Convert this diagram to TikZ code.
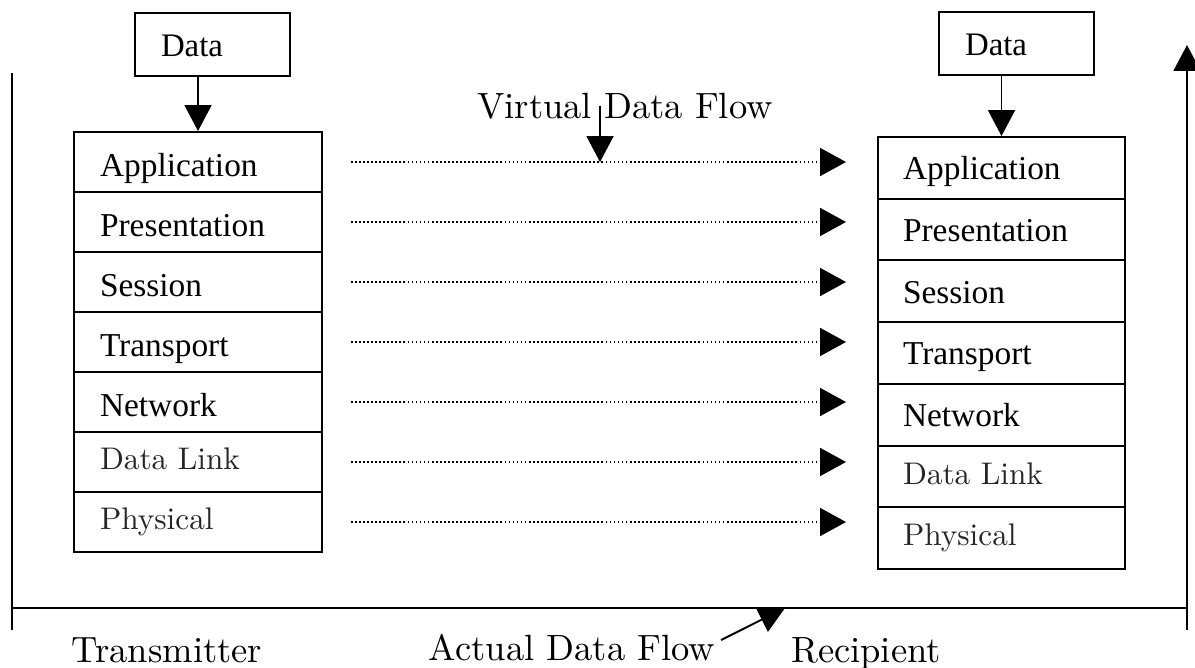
\documentclass[tikz,border=0pt]{standalone}
\usepackage{fontspec}
\newfontfamily\tms{Liberation Serif}
\newfontfamily\pala[Extension=.otf]{lmroman10-regular}
\usetikzlibrary{arrows.meta}

\begin{document}
\begin{tikzpicture}[
    x=0.02cm, y=-0.02cm,
    line width=1.1pt,
    databox/.style={draw, minimum height=1.26cm, inner xsep=0.52cm, text width=2.06cm, align=left, text height=0.5cm, text depth=0pt, font=\tms\fontsize{18.7}{22}\selectfont},
    layer/.style={draw, minimum height=1.2cm, inner xsep=0.52cm, text width=3.92cm, align=left, text height=0.58cm, text depth=0pt, font=\tms\fontsize{19}{22}\selectfont},
    rlayer/.style={layer, minimum height=1.234cm, inner xsep=0.5cm, text width=3.94cm, text height=0.48cm},
    pal/.style={font=\pala\fontsize{17.8}{20}\selectfont, text=black!85, text height=0.3cm},
    caption/.style={font=\pala\fontsize{20.8}{24}\selectfont, inner sep=0pt},
    flow/.style={-{Triangle[length=0.52cm, width=0.54cm]}, line width=1.1pt},
    dotflow/.style={-{Triangle[length=0.52cm, width=0.56cm]}, line width=1pt, dash pattern=on 1pt off 1.3pt}
]
\useasboundingbox (0,0) rectangle (1195,668);

% Sender stack
\node[databox] (dtx) at (212.5,44.5) {Data};
\foreach \lay [count=\i] in {Application,Presentation,Session,Transport,Network}
  \node[layer] (tx\i) at (198,{102+60*\i}) {\lay};
\node[layer, pal] (tx6) at (198,462) {Data Link};
\node[layer, pal] (tx7) at (198,522) {Physical};
\draw[flow] (tx1.north |- dtx.south) -- (tx1.north);

% Receiver stack
\node[databox] (drx) at (1016.5,43.5) {Data};
\foreach \lay [count=\i] in {Application,Presentation,Session,Transport,Network}
  \node[rlayer] (rx\i) at (1001.5,{137+61.7*(\i-0.5)}) {\lay};
\node[rlayer, pal] (rx6) at (1001.5,476.6) {Data Link};
\node[rlayer, pal] (rx7) at (1001.5,538.3) {Physical};
\draw[flow] (rx1.north |- drx.south) -- (rx1.north);

% Virtual data flow between peer layers
\coordinate (tip) at (846,0);
\foreach \i in {1,...,7}
  \draw[dotflow] ([xshift=0.56cm]tx\i.east) -- (tx\i.east -| tip);
\node[caption, anchor=base] (vdf) at (625,119) {Virtual Data Flow};
\coordinate (vtop) at (600,106);
\draw[flow] (vtop) -- (vtop |- tx1.east);

% Actual data flow through the medium
\coordinate (lt) at (12,73);
\coordinate (lb) at (12,630);
\coordinate (rt) at (1187,45);
\coordinate (rb) at (1187,630);
\coordinate (med) at (0,608);
\draw (lt) -- (lb);
\draw (lt |- med) -- (rt |- med);
\draw[flow] (rb) -- (rt);

\node[caption, anchor=base] (tx) at (167,662) {Transmitter};
\node[caption, anchor=base] (adf) at (572,660) {Actual Data Flow};
\node[caption, anchor=base] (rx) at (866,662) {Recipient};
\coordinate (adfhead) at (785,608);
\draw[flow] ([xshift=0.1cm, yshift=0.4cm]adf.base east) -- (adfhead);

\end{tikzpicture}
\end{document}
